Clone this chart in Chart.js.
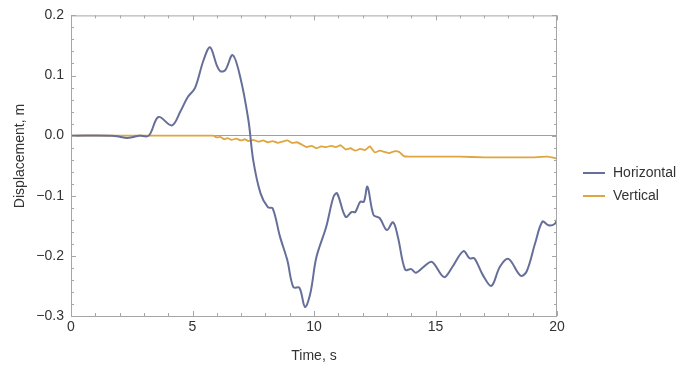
<!DOCTYPE html>
<html>
<head>
<meta charset="utf-8">
<script src="https://cdn.jsdelivr.net/npm/chart.js@4.4.0/dist/chart.umd.min.js"></script>
<style>
  html, body { margin: 0; padding: 0; background: #fff; }
  #wrap { width: 680px; height: 369px; }
</style>
</head>
<body>
<div id="wrap"><canvas id="chart" width="680" height="369"></canvas></div>
<script>
// ---- data ----
const timeH = [0, 1.7, 2.0, 2.3, 2.6, 2.8, 3.2, 3.6, 4.15, 4.5, 4.8, 5.1, 5.45, 5.72, 6.0, 6.15, 6.35, 6.65, 6.95,
  7.3, 7.5, 7.8, 8.1, 8.3, 8.6, 8.9, 9.15, 9.4, 9.63, 9.85, 10.1, 10.5, 10.8, 10.95, 11.3, 11.55, 11.7, 11.9, 12.05,
  12.2, 12.45, 12.7, 13.0, 13.25, 13.45, 13.75, 14.0, 14.2, 14.55, 14.85, 15.25, 15.4, 15.7, 16.15, 16.4, 16.6,
  16.95, 17.3, 17.65, 18.0, 18.5, 18.75, 19.1, 19.4, 19.65, 19.9, 20];
const horizontal = [0, 0, -0.002, -0.004, -0.002, 0, 0, 0.031, 0.017, 0.04, 0.064, 0.079, 0.125, 0.147, 0.117, 0.107, 0.109, 0.134, 0.10,
  0.026, -0.041, -0.096, -0.119, -0.121, -0.168, -0.207, -0.252, -0.253, -0.285, -0.262, -0.202, -0.152, -0.102, -0.096, -0.135, -0.127, -0.127, -0.11, -0.11,
  -0.085, -0.132, -0.137, -0.157, -0.144, -0.168, -0.223, -0.222, -0.228, -0.217, -0.21, -0.232, -0.235, -0.218, -0.192, -0.204, -0.204,
  -0.232, -0.25, -0.218, -0.205, -0.233, -0.226, -0.179, -0.143, -0.149, -0.147, -0.139];

const timeV = [0, 5.85, 6.0, 6.15, 6.3, 6.45, 6.6, 6.8, 7.0, 7.15, 7.3, 7.5, 7.7, 7.9, 8.1, 8.3, 8.5, 8.7, 8.9, 9.1,
  9.3, 9.5, 9.7, 9.9, 10.1, 10.3, 10.5, 10.7, 10.9, 11.1, 11.3, 11.5, 11.7, 11.9, 12.1, 12.3, 12.5, 12.7, 12.9,
  13.1, 13.3, 13.5, 13.7, 13.9, 14.2, 15, 16, 17, 18, 19, 19.6, 20];
const vertical = [0, 0, -0.003, -0.002, -0.006, -0.004, -0.007, -0.005, -0.008, -0.006, -0.009, -0.007, -0.010, -0.008, -0.011, -0.009, -0.012, -0.010, -0.008, -0.012,
  -0.011, -0.015, -0.019, -0.017, -0.021, -0.018, -0.019, -0.017, -0.019, -0.016, -0.023, -0.021, -0.025, -0.022, -0.024, -0.018, -0.028, -0.025, -0.027,
  -0.029, -0.026, -0.027, -0.034, -0.035, -0.035, -0.035, -0.035, -0.036, -0.036, -0.036, -0.035, -0.038];

const seriesNames = ['Horizontal', 'Vertical'];
const seriesColors = ['#666f99', '#dfa53e'];
const xTicks = [0, 5, 10, 15, 20];
const yTicks = [-0.3, -0.2, -0.1, 0.0, 0.1, 0.2];

const FONT = 'Liberation Sans, Arial, sans-serif';
const TEXT = '#333333';
const FRAME = '#a6a6a6';

// frame, inward ticks, y title and legend
const framePlugin = {
  id: 'frame',
  afterDatasetsDraw(chart) {
    const { ctx, chartArea: a, scales: { x, y } } = chart;
    ctx.save();
    ctx.strokeStyle = FRAME;
    ctx.lineWidth = 1;
    ctx.strokeRect(a.left + 0.5, a.top + 0.5, a.right - a.left - 1, a.bottom - a.top);
    ctx.beginPath();
    for (let v = 0; v <= 20.001; v += 1) {
      const px = Math.round(x.getPixelForValue(v)) + 0.5;
      const len = v % 5 === 0 ? 5 : 3;
      ctx.moveTo(px, a.bottom); ctx.lineTo(px, a.bottom - len);
      ctx.moveTo(px, a.top); ctx.lineTo(px, a.top + len);
    }
    for (let i = -15; i <= 10; i++) {
      const v = i * 0.02;
      const py = Math.round(y.getPixelForValue(v)) + 0.5;
      const len = i % 5 === 0 ? 5 : 3;
      ctx.moveTo(a.left, py); ctx.lineTo(a.left + len, py);
      ctx.moveTo(a.right, py); ctx.lineTo(a.right - len, py);
    }
    ctx.stroke();

    ctx.font = '14px ' + FONT;
    ctx.fillStyle = TEXT;

    // y axis title
    ctx.save();
    ctx.translate(20, 156);
    ctx.rotate(-Math.PI / 2);
    ctx.textAlign = 'center';
    ctx.textBaseline = 'middle';
    ctx.fillText('Displacement, m', 0, 0);
    ctx.restore();

    // legend
    ctx.textBaseline = 'middle';
    seriesNames.forEach((name, i) => {
      const ly = 173 + i * 23;
      ctx.strokeStyle = seriesColors[i];
      ctx.lineWidth = 2;
      ctx.beginPath();
      ctx.moveTo(583, ly); ctx.lineTo(605, ly);
      ctx.stroke();
      ctx.fillStyle = TEXT;
      ctx.fillText(name, 613, ly);
    });
    ctx.restore();
  }
};

function pts(xs, ys) { return xs.map((t, i) => ({ x: t, y: ys[i] })); }

new Chart(document.getElementById('chart'), {
  type: 'line',
  data: {
    datasets: [
      {
        label: seriesNames[0],
        data: pts(timeH, horizontal),
        borderColor: seriesColors[0],
        borderWidth: 2,
        pointRadius: 0,
        tension: 0.35,
        order: 1
      },
      {
        label: seriesNames[1],
        data: pts(timeV, vertical),
        borderColor: seriesColors[1],
        borderWidth: 1.8,
        pointRadius: 0,
        tension: 0.15,
        order: 2
      }
    ]
  },
  options: {
    responsive: false,
    animation: false,
    devicePixelRatio: 1,
    layout: { padding: { top: 15, right: 123, left: 0, bottom: 0 } },
    plugins: { legend: { display: false }, tooltip: { enabled: false } },
    scales: {
      x: {
        type: 'linear',
        min: 0, max: 20,
        afterBuildTicks: s => { s.ticks = xTicks.map(v => ({ value: v })); },
        afterFit: s => { s.height = 53; },
        grid: { display: false, drawTicks: false },
        border: { display: false },
        ticks: { color: TEXT, font: { family: FONT, size: 14 }, padding: 3, maxRotation: 0 },
        title: { display: true, text: 'Time, s', color: TEXT, font: { family: FONT, size: 14 }, padding: { top: 5 } }
      },
      y: {
        min: -0.3, max: 0.2,
        afterBuildTicks: s => { s.ticks = yTicks.map(v => ({ value: v })); },
        afterFit: s => { s.width = 71; },
        grid: {
          drawTicks: false,
          color: c => (Math.abs(c.tick.value) < 1e-9 ? '#a0a0a0' : 'rgba(0,0,0,0)'),
          lineWidth: 1
        },
        border: { display: false },
        ticks: {
          color: TEXT, font: { family: FONT, size: 14 }, padding: 7,
          callback: v => (v < -1e-9 ? '\u2212' : '') + Math.abs(v).toFixed(1)
        },
        title: { display: false }
      }
    }
  },
  plugins: [framePlugin]
});
</script>
</body>
</html>
